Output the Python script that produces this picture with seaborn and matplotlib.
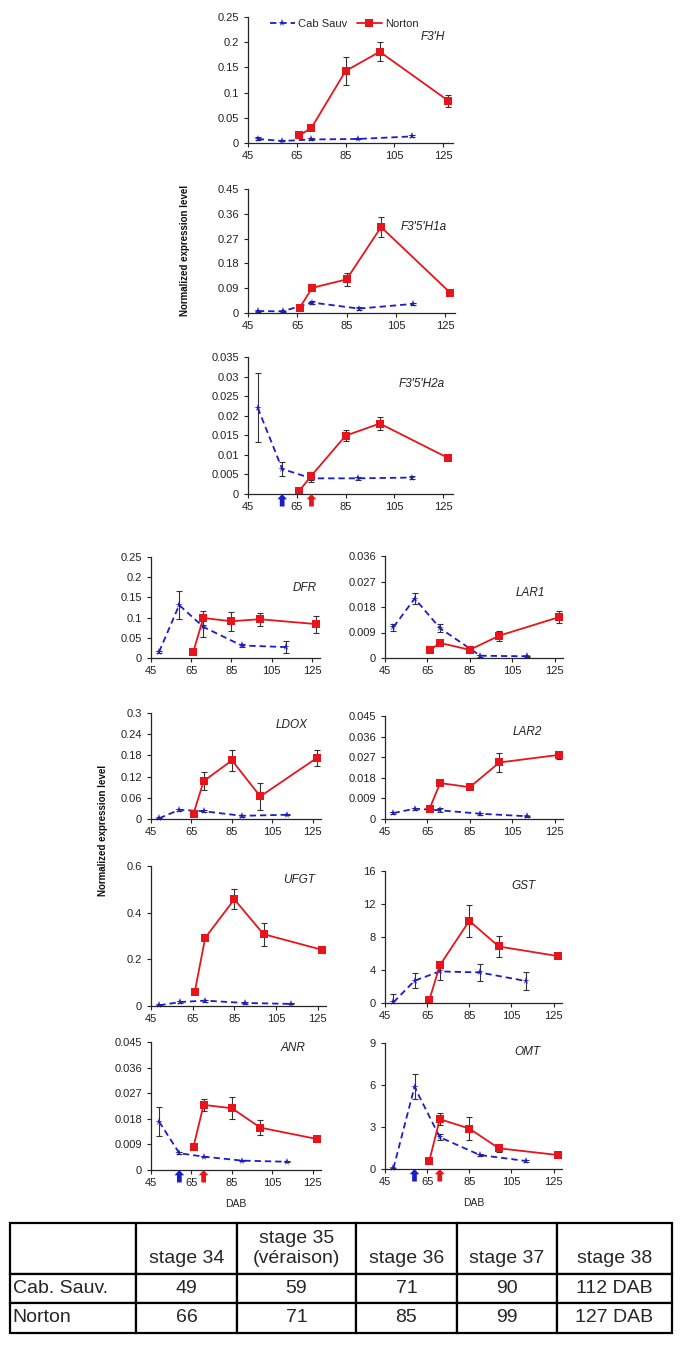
import numpy as np
import pandas as pd
import matplotlib
matplotlib.use("Agg")
import matplotlib.pyplot as plt
import seaborn as sns

# ---------------- data ----------------
cultivars = ["Cab Sauv", "Norton"]
dab_cab = [49, 59, 71, 90, 112]
dab_nor = [66, 71, 85, 99, 127]

f3h_cab = [0.008, 0.004, 0.007, 0.008, 0.013]
f3h_cab_err = [0.003, 0.001, 0.002, 0.001, 0.002]
f3h_nor = [0.015, 0.030, 0.143, 0.181, 0.084]
f3h_nor_err = [0.003, 0.003, 0.028, 0.019, 0.012]

f35h1a_cab = [0.007, 0.006, 0.038, 0.016, 0.033]
f35h1a_cab_err = [0.002, 0.002, 0.006, 0.005, 0.004]
f35h1a_nor = [0.019, 0.091, 0.122, 0.312, 0.074]
f35h1a_nor_err = [0.003, 0.004, 0.024, 0.037, 0.004]

f35h2a_cab = [0.022, 0.0064, 0.004, 0.004, 0.0042]
f35h2a_cab_err = [0.0088, 0.0018, 0.001, 0.0003, 0.0003]
f35h2a_nor = [0.0008, 0.0047, 0.0149, 0.018, 0.0092]
f35h2a_nor_err = [0.0002, 0.001, 0.0014, 0.0017, 0.0007]

dfr_cab = [0.015, 0.131, 0.077, 0.031, 0.027]
dfr_cab_err = [0.003, 0.035, 0.026, 0.004, 0.014]
dfr_nor = [0.015, 0.099, 0.091, 0.096, 0.084]
dfr_nor_err = [0.002, 0.018, 0.023, 0.016, 0.021]

lar1_cab = [0.0109, 0.021, 0.0105, 0.0008, 0.0006]
lar1_cab_err = [0.0012, 0.0018, 0.0014, 0.0003, 0.0002]
lar1_nor = [0.0027, 0.0053, 0.0029, 0.0079, 0.0144]
lar1_nor_err = [0.0003, 0.0012, 0.0003, 0.0018, 0.0022]

ldox_cab = [0.002, 0.026, 0.022, 0.009, 0.012]
ldox_cab_err = [0.001, 0.003, 0.003, 0.002, 0.002]
ldox_nor = [0.015, 0.107, 0.166, 0.064, 0.173]
ldox_nor_err = [0.003, 0.026, 0.030, 0.038, 0.022]

lar2_cab = [0.0026, 0.0045, 0.0038, 0.0023, 0.0012]
lar2_cab_err = [0.0004, 0.0004, 0.0008, 0.0004, 0.0003]
lar2_nor = [0.0044, 0.0157, 0.0139, 0.0247, 0.028]
lar2_nor_err = [0.0004, 0.0008, 0.0003, 0.004, 0.0017]

ufgt_cab = [0.003, 0.017, 0.023, 0.013, 0.009]
ufgt_cab_err = [0.002, 0.003, 0.004, 0.003, 0.002]
ufgt_nor = [0.060, 0.292, 0.457, 0.308, 0.241]
ufgt_nor_err = [0.004, 0.006, 0.043, 0.049, 0.004]

gst_cab = [0.08, 2.7, 3.83, 3.7, 2.66]
gst_cab_err = [1.0, 0.93, 1.0, 1.0, 1.05]
gst_nor = [0.32, 4.56, 9.96, 6.85, 5.69]
gst_nor_err = [0.1, 0.3, 1.94, 1.33, 0.15]

anr_cab = [0.017, 0.0059, 0.0047, 0.0033, 0.0029]
anr_cab_err = [0.005, 0.0004, 0.0003, 0.0003, 0.0002]
anr_nor = [0.0082, 0.0229, 0.0217, 0.0149, 0.0109]
anr_nor_err = [0.0004, 0.0022, 0.0039, 0.0027, 0.0009]

omt_cab = [0.05, 5.87, 2.27, 1.0, 0.57]
omt_cab_err = [0.05, 0.9, 0.2, 0.08, 0.06]
omt_nor = [0.57, 3.56, 2.89, 1.48, 1.0]
omt_nor_err = [0.05, 0.43, 0.8, 0.3, 0.06]

x_ticks = [45, 65, 85, 105, 125]
veraison_cab = 59
veraison_nor = 71

table_header = ["", "\nstage 34", "stage 35\n(véraison)", "\nstage 36", "\nstage 37", "\nstage 38"]
table_cab = ["Cab. Sauv.", "49", "59", "71", "90", "112 DAB"]
table_nor = ["Norton", "66", "71", "85", "99", "127 DAB"]

# ---------------- style ----------------
sns.set_style("ticks")
plt.rcParams["font.family"] = ["Liberation Sans", "DejaVu Sans"]
plt.rcParams["axes.linewidth"] = 0.9

BLUE = "#1c1cc8"
RED = "#e8141b"
W, H = 685, 1345
fig = plt.figure(figsize=(W / 100, H / 100), dpi=100)


def add_ax(l, t, r, b):
    return fig.add_axes([l / W, 1 - b / H, (r - l) / W, (b - t) / H])


def panel(ax, name, cab, cab_err, nor, nor_err, ymax, yticks, lab_xy, legend=False, arrows=False):
    df = pd.DataFrame({
        "DAB": dab_cab + dab_nor,
        "value": cab + nor,
        "cultivar": ["Cab Sauv"] * len(dab_cab) + ["Norton"] * len(dab_nor),
    })
    ax.errorbar(dab_cab, cab, yerr=cab_err, fmt="none", ecolor="#333333",
                elinewidth=0.8, capsize=2, capthick=0.8, zorder=1.5)
    ax.errorbar(dab_nor, nor, yerr=nor_err, fmt="none", ecolor="#333333",
                elinewidth=0.8, capsize=2, capthick=0.8, zorder=1.5)
    sns.lineplot(data=df, x="DAB", y="value", hue="cultivar", style="cultivar",
                 hue_order=cultivars, style_order=cultivars,
                 palette={"Cab Sauv": BLUE, "Norton": RED},
                 markers={"Cab Sauv": "*", "Norton": "s"},
                 dashes={"Cab Sauv": (3.5, 2.2), "Norton": ""},
                 markersize=5.5, markeredgewidth=0, linewidth=1.3,
                 legend=legend, ax=ax, clip_on=False, zorder=2)
    ax.set_xlim(45, 129)
    ax.set_ylim(0, ymax)
    ax.set_xticks(x_ticks)
    ax.set_yticks(yticks)
    ax.set_yticklabels([("%g" % v) for v in yticks])
    ax.set_xlabel("")
    ax.set_ylabel("")
    ax.tick_params(axis="both", labelsize=8, length=3, width=0.8, colors="#222222",
                   direction="out", pad=2.5)
    ax.tick_params(axis="y", pad=3.5)
    sns.despine(ax=ax)
    ax.text(lab_xy[0], lab_xy[1], name, transform=ax.transAxes, ha="right", va="center",
            fontsize=8.5, style="italic", color="#222222")
    if legend:
        lg = ax.legend_
        handles = lg.legend_handles
        labels = [t.get_text() for t in lg.texts]
        ax.legend(handles, labels, loc="upper center", bbox_to_anchor=(0.47, 1.065),
                  ncol=2, frameon=False, fontsize=8, handlelength=2.2,
                  columnspacing=0.9, handletextpad=0.3)
    if arrows:
        for xv, col in [(veraison_cab, BLUE), (veraison_nor, RED)]:
            ax.annotate("", xy=(xv, 0), xycoords=("data", "axes fraction"),
                        xytext=(0, -9), textcoords="offset points",
                        arrowprops=dict(facecolor=col, edgecolor="none", width=3.4,
                                        headwidth=7, headlength=3.8, shrinkA=0, shrinkB=1.5),
                        annotation_clip=False)
    return ax


# top three panels
axA = add_ax(248, 17, 453, 143)
panel(axA, "F3'H", f3h_cab, f3h_cab_err, f3h_nor, f3h_nor_err, 0.25,
      [0, 0.05, 0.1, 0.15, 0.2, 0.25], (0.96, 0.84), legend=True)
axB = add_ax(248, 189, 455, 313)
panel(axB, "F3'5'H1a", f35h1a_cab, f35h1a_cab_err, f35h1a_nor, f35h1a_nor_err, 0.45,
      [0, 0.09, 0.18, 0.27, 0.36, 0.45], (0.96, 0.69))
axC = add_ax(248, 357, 453, 494)
panel(axC, "F3'5'H2a", f35h2a_cab, f35h2a_cab_err, f35h2a_nor, f35h2a_nor_err, 0.035,
      [0, 0.005, 0.01, 0.015, 0.02, 0.025, 0.03, 0.035], (0.96, 0.80), arrows=True)

# bottom grid
ax = add_ax(151, 557, 320, 658)
panel(ax, "DFR", dfr_cab, dfr_cab_err, dfr_nor, dfr_nor_err, 0.25,
      [0, 0.05, 0.1, 0.15, 0.2, 0.25], (0.98, 0.69))
ax = add_ax(385, 556, 563, 658)
panel(ax, "LAR1", lar1_cab, lar1_cab_err, lar1_nor, lar1_nor_err, 0.036,
      [0, 0.009, 0.018, 0.027, 0.036], (0.90, 0.64))
ax = add_ax(151, 713, 321, 819)
panel(ax, "LDOX", ldox_cab, ldox_cab_err, ldox_nor, ldox_nor_err, 0.3,
      [0, 0.06, 0.12, 0.18, 0.24, 0.3], (0.92, 0.89))
ax = add_ax(385, 716, 563, 819)
panel(ax, "LAR2", lar2_cab, lar2_cab_err, lar2_nor, lar2_nor_err, 0.045,
      [0, 0.009, 0.018, 0.027, 0.036, 0.045], (0.88, 0.84))
ax = add_ax(151, 866, 326, 1006)
panel(ax, "UFGT", ufgt_cab, ufgt_cab_err, ufgt_nor, ufgt_nor_err, 0.6,
      [0, 0.2, 0.4, 0.6], (0.94, 0.90))
ax = add_ax(385, 871, 562, 1003)
panel(ax, "GST", gst_cab, gst_cab_err, gst_nor, gst_nor_err, 16,
      [0, 4, 8, 12, 16], (0.85, 0.89))
axANR = add_ax(151, 1042, 321, 1170)
panel(axANR, "ANR", anr_cab, anr_cab_err, anr_nor, anr_nor_err, 0.045,
      [0, 0.009, 0.018, 0.027, 0.036, 0.045], (0.91, 0.95), arrows=True)
axOMT = add_ax(385, 1043, 562, 1169)
panel(axOMT, "OMT", omt_cab, omt_cab_err, omt_nor, omt_nor_err, 9,
      [0, 3, 6, 9], (0.88, 0.93), arrows=True)
for a in (axANR, axOMT):
    a.set_xlabel("DAB", fontsize=7.5, color="#222222", labelpad=8)

fig.text(185 / W, 1 - 250 / H, "Normalized expression level", rotation=90,
         ha="center", va="center", fontsize=7, fontweight="bold", color="#111111")
fig.text(103 / W, 1 - 830 / H, "Normalized expression level", rotation=90,
         ha="center", va="center", fontsize=7, fontweight="bold", color="#111111")

# ---------------- table ----------------
tax = add_ax(10, 1223, 672, 1333)
tax.axis("off")
col_px = [126, 101, 119, 101, 100, 115]
tbl = tax.table(cellText=[table_header, table_cab, table_nor],
                colWidths=[c / sum(col_px) for c in col_px],
                cellLoc="center", bbox=[0, 0, 1, 1])
tbl.auto_set_font_size(False)
tbl.set_fontsize(14)
row_h = [51, 29, 30]
for (r, c), cell in tbl.get_celld().items():
    cell.set_height(row_h[r])
    cell.set_linewidth(1.6)
    cell.set_edgecolor("black")
    txt = cell.get_text()
    txt.set_fontsize(14)
    txt.set_linespacing(1.3)
    if c == 0 and r > 0:
        txt.set_horizontalalignment("left")
        cell._loc = "left"
        cell.PAD = 0.02

fig.savefig("out.png", dpi=100)
